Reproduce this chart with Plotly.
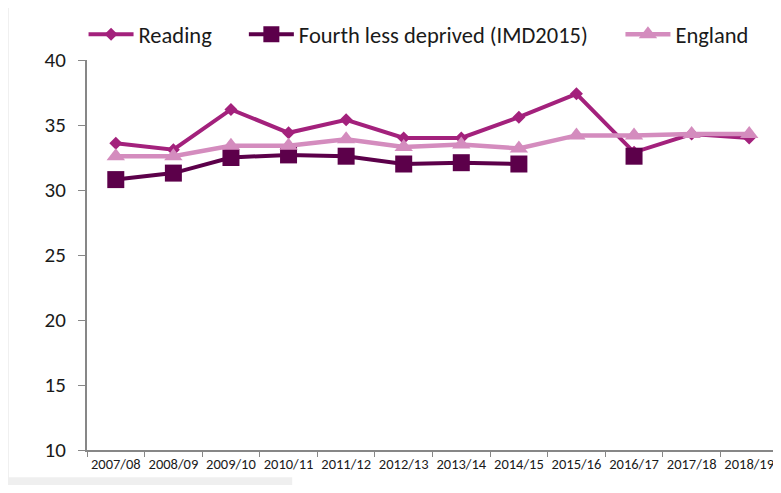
import plotly.graph_objects as go

# ---- data ----------------------------------------------------------------
YEARS = ["2007/08", "2008/09", "2009/10", "2010/11", "2011/12", "2012/13",
         "2013/14", "2014/15", "2015/16", "2016/17", "2017/18", "2018/19"]
READING = [33.6, 33.1, 36.2, 34.4, 35.4, 34.0, 34.0, 35.6, 37.4, 32.9, 34.3, 34.0]
FOURTH_LESS = [30.8, 31.3, 32.5, 32.7, 32.6, 32.0, 32.1, 32.0, None, 32.6, None, None]
ENGLAND = [32.6, 32.6, 33.4, 33.4, 33.9, 33.3, 33.5, 33.2, 34.2, 34.2, 34.3, 34.3]

# ---- palette -------------------------------------------------------------
MAGENTA = "#a3217c"
PLUM = "#5c004a"
PINK = "#d48cbe"
AXIS = "#878787"
FONT = "Carlito"

fig = go.Figure()
fig.add_trace(go.Scatter(
    x=YEARS, y=READING, name="Reading", mode="lines+markers", legend="legend",
    line=dict(color=MAGENTA, width=4),
    marker=dict(symbol="diamond", size=10, color=MAGENTA)))
fig.add_trace(go.Scatter(
    x=YEARS, y=FOURTH_LESS, name="Fourth less deprived (IMD2015)", mode="lines+markers",
    legend="legend2", line=dict(color=PLUM, width=4), connectgaps=False,
    marker=dict(symbol="square", size=17, color=PLUM)))
fig.add_trace(go.Scatter(
    x=YEARS, y=ENGLAND, name="England", mode="lines+markers", legend="legend3",
    line=dict(color=PINK, width=4.5),
    marker=dict(symbol="triangle-up", size=16, color=PINK)))

# faint frame remnants around the picture (paper coords of the plot area)
shapes = [
    dict(type="rect", xref="paper", yref="paper", x0=-0.123, x1=-0.113, y0=-0.11, y1=1.2,
         fillcolor="#efefef", line_width=0, layer="below"),
    dict(type="rect", xref="paper", yref="paper", x0=-0.123, x1=0.297, y0=-0.11, y1=-0.07,
         fillcolor="#efefef", line_width=0, layer="below"),
]


def legend_at(x):
    return dict(orientation="h", x=x, xanchor="left", y=1.01, yanchor="bottom",
                font=dict(size=22.5, family=FONT), itemwidth=45,
                bgcolor="rgba(0,0,0,0)")


# page body has an 8px margin, so the figure is sized/offset to compensate
fig.update_layout(
    width=773, height=477,
    margin=dict(l=79, r=3, t=52, b=35, autoexpand=False),
    plot_bgcolor="white", paper_bgcolor="white",
    font=dict(family=FONT, color="#1a1a1a"),
    showlegend=True,
    legend=legend_at(-0.005),
    legend2=legend_at(0.227),
    legend3=legend_at(0.772),
    shapes=shapes,
)
fig.update_xaxes(
    range=[-0.5, 11.5], tickangle=0,
    showgrid=False, showline=True, linecolor=AXIS, linewidth=2,
    ticks="outside", tickson="boundaries", ticklen=5, tickcolor=AXIS,
    tickfont=dict(size=14.5, family=FONT, color="#1a1a1a"))
fig.update_yaxes(
    range=[10, 40], dtick=5, showgrid=False, zeroline=False,
    showline=True, linecolor=AXIS, linewidth=2,
    ticks="outside", ticklen=7, tickcolor=AXIS, ticklabelstandoff=8,
    tickfont=dict(size=21, family=FONT, color="#1a1a1a"))

fig.write_html("out.html")
